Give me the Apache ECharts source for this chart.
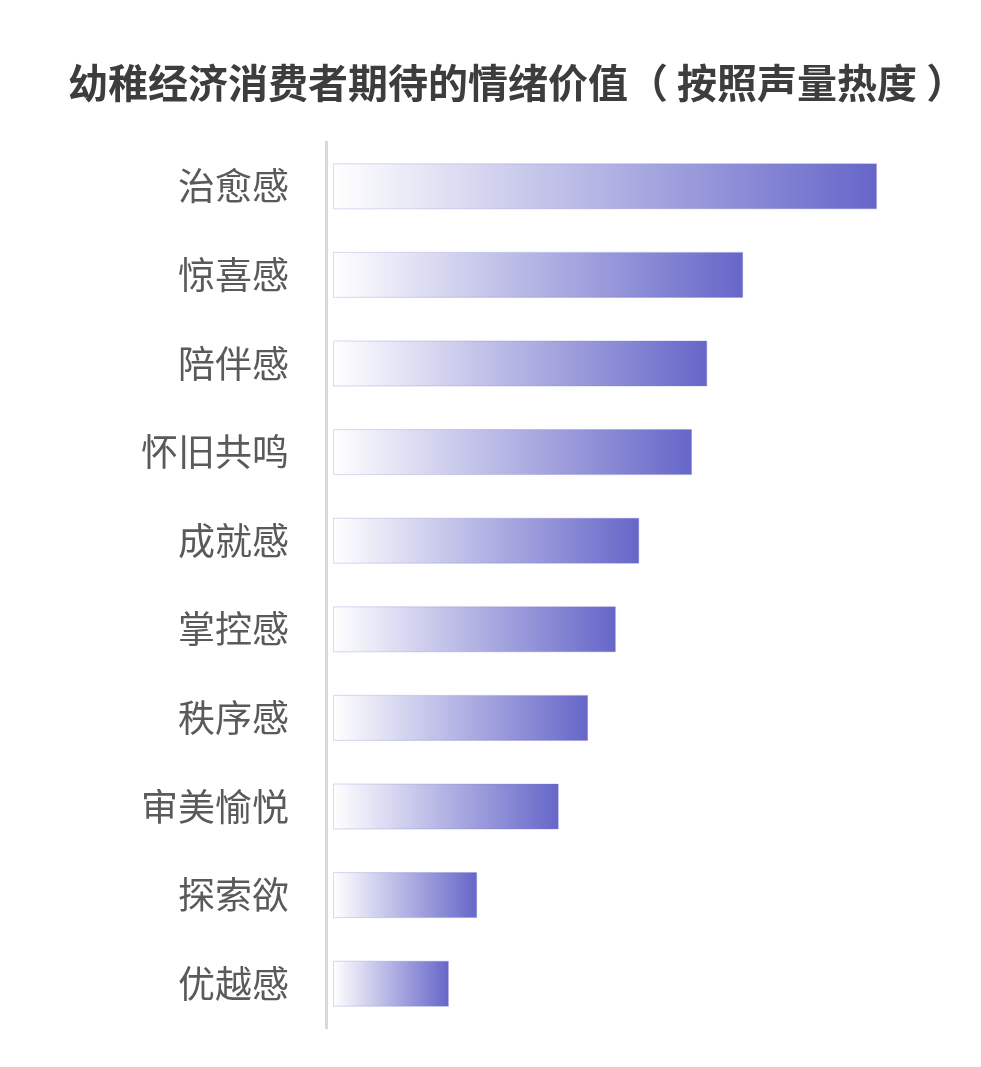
<!DOCTYPE html>
<html>
<head>
<meta charset="utf-8">
<script src="https://cdn.jsdelivr.net/npm/echarts@6/dist/echarts.min.js"></script>
<style>
  html, body { margin: 0; padding: 0; background: #fff; }
  #chart { width: 981px; height: 1067px; }
</style>
</head>
<body>
<div id="chart"></div>
<script>
var chart = echarts.init(document.getElementById('chart'));

// 情绪价值类别（从上到下）
var categories = ['治愈感', '惊喜感', '陪伴感', '怀旧共鸣', '成就感', '掌控感', '秩序感', '审美愉悦', '探索欲', '优越感'];
// 声量热度（相对值，按图估读）
var values = [100, 75.4, 68.8, 66.0, 56.3, 52.0, 46.9, 41.5, 26.5, 21.3];

var option = {
    backgroundColor: '#fff',
    title: {
        text: '幼稚经济消费者期待的情绪价值（ 按照声量热度 ）',
        left: 63,
        top: 58,
        textStyle: {
            fontFamily: 'Noto Sans CJK SC',
            fontWeight: 'bold',
            fontSize: 40,
            color: '#3d3d3d'
        }
    },
    grid: {
        left: 333,
        right: 104,
        top: 142,
        bottom: 39,
        containLabel: false
    },
    xAxis: {
        type: 'value',
        min: 0,
        max: 100,
        show: false
    },
    yAxis: {
        type: 'category',
        data: categories,
        inverse: true,
        offset: 7,
        axisLine: {
            show: true,
            onZero: false,
            lineStyle: { color: '#d9d9d9', width: 3 }
        },
        axisTick: { show: false },
        axisLabel: {
            margin: 37,
            fontFamily: 'Noto Sans CJK SC',
            fontSize: 37,
            color: '#5a5a5a'
        }
    },
    series: [{
        type: 'bar',
        data: values,
        barWidth: 46,
        silent: true,
        itemStyle: {
            borderColor: 'rgba(120,120,210,0.15)',
            borderWidth: 1,
            color: new echarts.graphic.LinearGradient(0, 0, 1, 0, [
                { offset: 0, color: '#ffffff' },
                { offset: 1, color: '#6666c9' }
            ])
        }
    }]
};

chart.setOption(option);
</script>
</body>
</html>
